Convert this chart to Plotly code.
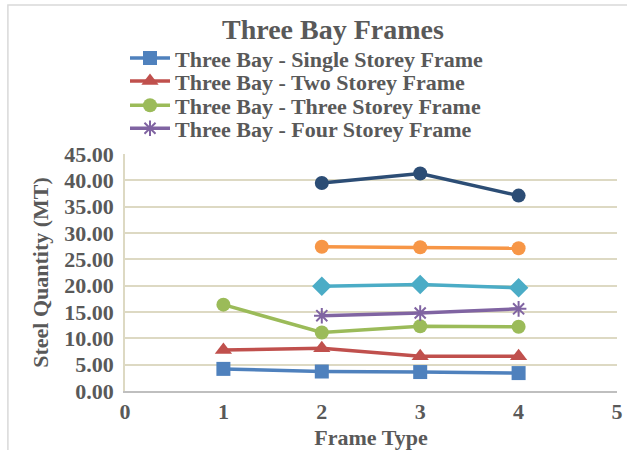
import plotly.graph_objects as go

# Frame types on the x axis
frame_type = [1, 2, 3, 4]
frame_type_multi = [2, 3, 4]

# Steel quantity (MT) per series
single_storey = [4.2, 3.7, 3.6, 3.4]
two_storey = [7.8, 8.1, 6.6, 6.6]
three_storey = [16.4, 11.1, 12.3, 12.2]
four_storey = [14.3, 14.8, 15.6]
series_cyan = [19.9, 20.2, 19.6]
series_orange = [27.4, 27.3, 27.1]
series_navy = [39.5, 41.3, 37.1]

legend_names = [
    "Three Bay - Single Storey Frame",
    "Three Bay - Two Storey Frame",
    "Three Bay - Three Storey Frame",
    "Three Bay - Four Storey Frame",
]

FONT = "Liberation Serif"
TEXT = "#595959"
FS = 22

fig = go.Figure()

def add_series(x, y, name, color, symbol, size, legend=None, open_marker=False):
    marker = dict(color=color, size=size, symbol=symbol)
    if open_marker:
        marker["line"] = dict(color=color, width=2)
    kw = {}
    if legend:
        kw["legend"] = legend
        name = f"<b>{name}</b>"
    fig.add_trace(go.Scatter(
        x=x, y=y, name=name, mode="lines+markers",
        line=dict(color=color, width=3.5),
        marker=marker, showlegend=legend is not None, **kw,
    ))

add_series(frame_type, single_storey, legend_names[0], "#4f81bd", "square", 14, legend="legend")
add_series(frame_type, two_storey, legend_names[1], "#c0504d", "triangle-up", 15, legend="legend2")
add_series(frame_type, three_storey, legend_names[2], "#9bbb59", "circle", 14, legend="legend3")
add_series(frame_type_multi, four_storey, legend_names[3], "#8064a2", "asterisk-open", 13,
           legend="legend4", open_marker=True)
add_series(frame_type_multi, series_cyan, "Series 5", "#4bacc6", "diamond", 15)
add_series(frame_type_multi, series_orange, "Series 6", "#f79646", "circle", 14)
add_series(frame_type_multi, series_navy, "Series 7", "#2c4d75", "circle", 14)

def legend_at(y):
    return dict(x=0.0, xanchor="left", y=y, yanchor="middle",
                font=dict(size=FS, color=TEXT, family=FONT),
                bgcolor="rgba(0,0,0,0)", itemwidth=40)

fig.update_layout(
    width=627, height=450,
    margin=dict(l=125, r=10, t=154, b=59, autoexpand=False),
    paper_bgcolor="white", plot_bgcolor="white",
    font=dict(family=FONT, color=TEXT, size=FS),
    title=dict(text="<b>Three Bay Frames</b>", x=0.531, xanchor="center",
               y=0.935, yanchor="middle", font=dict(size=28, color=TEXT, family=FONT)),
    legend=legend_at(1.404),
    legend2=legend_at(1.307),
    legend3=legend_at(1.205),
    legend4=legend_at(1.108),
    xaxis=dict(range=[0, 5], dtick=1, tick0=0, showgrid=False, zeroline=False,
               showline=True, linecolor="#bfbfbf", linewidth=1.5, ticks="",
               automargin=False, ticklabelstandoff=0,
               tickfont=dict(size=FS, family=FONT, color=TEXT),
               tickformat="d", tickprefix="<b>", ticksuffix="</b>",
               title=dict(text="<b>Frame Type</b>", standoff=8,
                          font=dict(size=FS, family=FONT, color=TEXT))),
    yaxis=dict(range=[0, 45], dtick=5, showgrid=True, gridcolor="#ddd9c3", gridwidth=1.5,
               zeroline=False, showline=True, linecolor="#ddd9c3", linewidth=1.5,
               automargin=False, ticklabelstandoff=5,
               ticks="", tickformat=".2f", tickprefix="<b>", ticksuffix="</b>",
               tickfont=dict(size=FS, family=FONT, color=TEXT),
               title=dict(text="<b>Steel Quantity (MT)</b>", standoff=10,
                          font=dict(size=FS, family=FONT, color=TEXT))),
)

# outer chart border
fig.add_shape(type="rect", xref="paper", yref="paper",
              x0=-0.238, x1=1.2, y0=-0.3, y1=1.629,
              line=dict(color="#d9d9d9", width=1.5), fillcolor="rgba(0,0,0,0)",
              layer="below")

fig.write_html("out.html")
